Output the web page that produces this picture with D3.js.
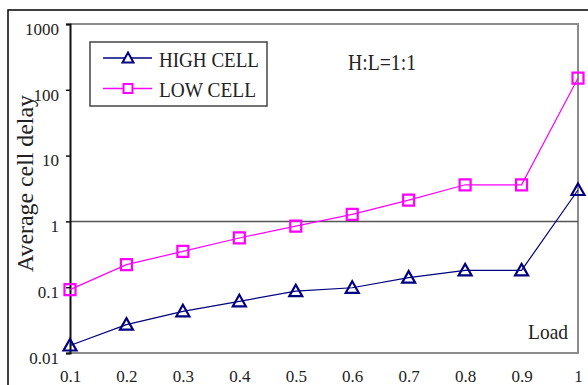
<!DOCTYPE html>
<html>
<head>
<meta charset="utf-8">
<script src="https://cdn.jsdelivr.net/npm/d3@7"></script>
<style>
  body { margin: 0; background: #fff; }
  svg text { font-family: "Liberation Serif", "DejaVu Serif", "Times New Roman", serif; fill: #222; }
</style>
</head>
<body>
<svg id="chart" width="588" height="385"></svg>
<script>
const loads = [0.1, 0.2, 0.3, 0.4, 0.5, 0.6, 0.7, 0.8, 0.9, 1.0];
const highCell = [0.013, 0.027, 0.043, 0.061, 0.087, 0.098, 0.14, 0.18, 0.18, 3.0];
const lowCell = [0.092, 0.22, 0.35, 0.56, 0.85, 1.28, 2.1, 3.6, 3.6, 150];
const yTicks = [0.01, 0.1, 1, 10, 100, 1000];
const yTickLabels = ["0.01", "0.1", "1", "10", "100", "1000"];
const xTickLabels = ["0.1", "0.2", "0.3", "0.4", "0.5", "0.6", "0.7", "0.8", "0.9", "1"];

const serif = "'Liberation Serif', 'DejaVu Serif', serif";
const svg = d3.select("#chart").style("font-family", serif);
const plot = { left: 70, right: 578, top: 24, bottom: 353 };

const x = d3.scaleLinear().domain([0.1, 1]).range([plot.left, plot.right]);
const y = d3.scaleLog().domain([0.01, 1000]).range([plot.bottom, plot.top]);

// outer frame
svg.append("path")
  .attr("d", `M8,390 L8,10 L592,10`)
  .attr("fill", "none")
  .attr("stroke", "#000")
  .attr("stroke-width", 1.5);

// plot frame (top, right, bottom in gray)
svg.append("path")
  .attr("d", `M${plot.left},${plot.top} L${plot.right},${plot.top} L${plot.right},${plot.bottom} L${plot.left},${plot.bottom}`)
  .attr("fill", "none")
  .attr("stroke", "#8c8c8c")
  .attr("stroke-width", 2);

// gridline at 1
svg.append("line")
  .attr("x1", plot.left).attr("x2", plot.right)
  .attr("y1", y(1)).attr("y2", y(1))
  .attr("stroke", "#555")
  .attr("stroke-width", 1.5);

// y axis
const yAxis = d3.axisLeft(y)
  .tickValues(yTicks)
  .tickFormat((d, i) => yTickLabels[i])
  .tickSize(4)
  .tickPadding(7);
const gy = svg.append("g").attr("transform", `translate(${plot.left},0)`).call(yAxis)
  .attr("font-family", null).attr("font-size", 17);
gy.select(".domain").attr("stroke", "#111").attr("stroke-width", 2);
gy.selectAll(".tick line").attr("stroke", "#111").attr("stroke-width", 1.5);
gy.selectAll(".tick text")
  .style("font-family", serif)
  .attr("fill", "#333")
  .attr("dy", "0.6em");

// x axis labels
const xAxis = d3.axisBottom(x)
  .tickValues(loads)
  .tickFormat((d, i) => xTickLabels[i])
  .tickSize(0)
  .tickPadding(17);
const gx = svg.append("g").attr("transform", `translate(0,${plot.bottom})`).call(xAxis)
  .attr("font-family", null).attr("font-size", 17);
gx.select(".domain").remove();
gx.selectAll(".tick text")
  .style("font-family", serif)
  .attr("fill", "#333");

const line = d3.line().x((d, i) => x(loads[i])).y(d => y(d));

const triangle = "M0,-6.5 L6.5,5 L-6.5,5 Z";
const square = "M-5.5,-5.5 H5.5 V5.5 H-5.5 Z";

const series = [
  { name: "HIGH CELL", values: highCell, color: "#000080", marker: triangle },
  { name: "LOW CELL", values: lowCell, color: "#ff00ff", marker: square }
];

series.forEach(s => {
  svg.append("path")
    .datum(s.values)
    .attr("d", line)
    .attr("fill", "none")
    .attr("stroke", s.color)
    .attr("stroke-width", 1.2);
  svg.selectAll(null)
    .data(s.values)
    .join("path")
    .attr("d", s.marker)
    .attr("transform", (d, i) => `translate(${x(loads[i])},${y(d)})`)
    .attr("fill", "none")
    .attr("stroke", s.color)
    .attr("stroke-width", 2.2);
});

// legend
svg.append("rect")
  .attr("x", 90).attr("y", 42)
  .attr("width", 177).attr("height", 64)
  .attr("fill", "#fff")
  .attr("stroke", "#444")
  .attr("stroke-width", 1.5);

const legendMarkers = ["M0,-5.5 L5.5,4.5 L-5.5,4.5 Z", "M-4.5,-4.5 H4.5 V4.5 H-4.5 Z"];
const legendWidths = [100, 97];
series.forEach((s, i) => {
  const ly = 58 + i * 30.5;
  svg.append("line")
    .attr("x1", 103).attr("x2", 152)
    .attr("y1", ly).attr("y2", ly)
    .attr("stroke", s.color)
    .attr("stroke-width", 1.5);
  svg.append("path")
    .attr("d", legendMarkers[i])
    .attr("transform", `translate(128,${ly})`)
    .attr("fill", "#fff")
    .attr("stroke", s.color)
    .attr("stroke-width", 2);
  svg.append("text")
    .attr("x", 159).attr("y", ly + 8.5)
    .attr("font-size", 22)
    .attr("textLength", legendWidths[i])
    .attr("lengthAdjust", "spacingAndGlyphs")
    .text(s.name);
});

svg.append("text")
  .attr("x", 348).attr("y", 70)
  .attr("font-size", 23)
  .attr("textLength", 68)
  .attr("lengthAdjust", "spacingAndGlyphs")
  .text("H:L=1:1");

svg.append("text")
  .attr("x", 528).attr("y", 339)
  .attr("font-size", 22)
  .attr("textLength", 40)
  .attr("lengthAdjust", "spacingAndGlyphs")
  .text("Load");

svg.append("text")
  .attr("transform", "translate(33,272) rotate(-90)")
  .attr("font-size", 23)
  .attr("textLength", 177)
  .attr("lengthAdjust", "spacingAndGlyphs")
  .text("Average cell delay");
</script>
</body>
</html>
